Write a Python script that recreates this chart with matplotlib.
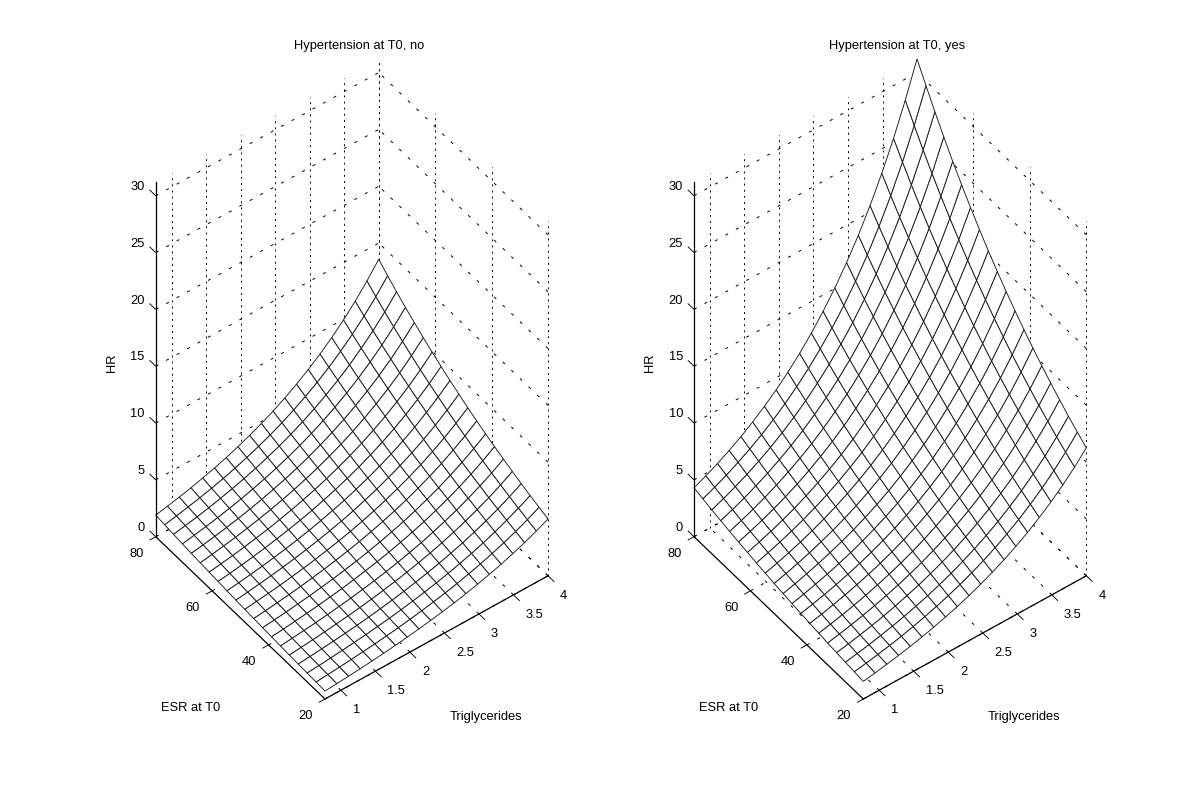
"""
HR surfaces over triglycerides and ESR, by hypertension at T0
"""

import numpy as np
import matplotlib

matplotlib.use("Agg")
import matplotlib.pyplot as plt
from mpl_toolkits.mplot3d import proj3d

plt.rcParams["font.family"] = ["Liberation Sans", "DejaVu Sans"]
plt.rcParams["lines.scale_dashes"] = False

# Mesh nodes
TRIG = [0.77, 0.94, 1.11, 1.28, 1.45, 1.62, 1.79, 1.96, 2.13, 2.30,
        2.47, 2.64, 2.81, 2.98, 3.15, 3.32, 3.49, 3.66, 3.83, 4.00]
ESR = [20.0, 23.16, 26.32, 29.47, 32.63, 35.79, 38.95, 42.11, 45.26, 48.42,
       51.58, 54.74, 57.89, 61.05, 64.21, 67.37, 70.53, 73.68, 76.84, 80.0]

# HR, one row per ESR node, one column per TRIG node
HR_NO = [
    [0.70, 0.78, 0.86, 0.95, 1.06, 1.17, 1.30, 1.44, 1.60, 1.78, 1.97, 2.18, 2.42, 2.69, 2.98, 3.30, 3.66, 4.06, 4.51, 5.00],
    [0.74, 0.82, 0.91, 1.01, 1.12, 1.24, 1.37, 1.52, 1.69, 1.87, 2.08, 2.30, 2.55, 2.83, 3.14, 3.48, 3.86, 4.28, 4.75, 5.27],
    [0.78, 0.86, 0.96, 1.06, 1.18, 1.30, 1.45, 1.60, 1.78, 1.97, 2.19, 2.43, 2.69, 2.99, 3.31, 3.67, 4.07, 4.52, 5.01, 5.55],
    [0.82, 0.91, 1.01, 1.12, 1.24, 1.37, 1.52, 1.69, 1.88, 2.08, 2.31, 2.56, 2.84, 3.15, 3.49, 3.87, 4.29, 4.76, 5.28, 5.85],
    [0.86, 0.96, 1.06, 1.18, 1.31, 1.45, 1.61, 1.78, 1.98, 2.19, 2.43, 2.70, 2.99, 3.32, 3.68, 4.08, 4.52, 5.01, 5.56, 6.17],
    [0.91, 1.01, 1.12, 1.24, 1.38, 1.53, 1.69, 1.88, 2.08, 2.31, 2.56, 2.84, 3.15, 3.50, 3.88, 4.30, 4.77, 5.29, 5.86, 6.50],
    [0.96, 1.06, 1.18, 1.31, 1.45, 1.61, 1.78, 1.98, 2.20, 2.43, 2.70, 3.00, 3.32, 3.68, 4.09, 4.53, 5.02, 5.57, 6.18, 6.85],
    [1.01, 1.12, 1.24, 1.38, 1.53, 1.70, 1.88, 2.09, 2.31, 2.57, 2.85, 3.16, 3.50, 3.88, 4.31, 4.77, 5.30, 5.87, 6.51, 7.22],
    [1.07, 1.18, 1.31, 1.45, 1.61, 1.79, 1.98, 2.20, 2.44, 2.70, 3.00, 3.33, 3.69, 4.09, 4.54, 5.03, 5.58, 6.19, 6.86, 7.61],
    [1.12, 1.25, 1.38, 1.53, 1.70, 1.88, 2.09, 2.32, 2.57, 2.85, 3.16, 3.51, 3.89, 4.31, 4.78, 5.30, 5.88, 6.52, 7.23, 8.02],
    [1.18, 1.31, 1.46, 1.62, 1.79, 1.99, 2.20, 2.44, 2.71, 3.00, 3.33, 3.70, 4.10, 4.55, 5.04, 5.59, 6.20, 6.88, 7.63, 8.46],
    [1.25, 1.38, 1.54, 1.70, 1.89, 2.09, 2.32, 2.57, 2.86, 3.17, 3.51, 3.90, 4.32, 4.79, 5.31, 5.89, 6.53, 7.25, 8.04, 8.91],
    [1.32, 1.46, 1.62, 1.79, 1.99, 2.21, 2.45, 2.71, 3.01, 3.34, 3.70, 4.11, 4.55, 5.05, 5.60, 6.21, 6.89, 7.64, 8.47, 9.39],
    [1.39, 1.54, 1.70, 1.89, 2.10, 2.32, 2.58, 2.86, 3.17, 3.52, 3.90, 4.33, 4.80, 5.32, 5.90, 6.54, 7.26, 8.05, 8.92, 9.90],
    [1.46, 1.62, 1.80, 1.99, 2.21, 2.45, 2.72, 3.01, 3.34, 3.71, 4.11, 4.56, 5.06, 5.61, 6.22, 6.90, 7.65, 8.48, 9.41, 10.43],
    [1.54, 1.71, 1.89, 2.10, 2.33, 2.58, 2.86, 3.18, 3.52, 3.91, 4.33, 4.81, 5.33, 5.91, 6.56, 7.27, 8.06, 8.94, 9.92, 11.00],
    [1.62, 1.80, 2.00, 2.21, 2.46, 2.72, 3.02, 3.35, 3.72, 4.12, 4.57, 5.07, 5.62, 6.23, 6.91, 7.66, 8.50, 9.42, 10.45, 11.59],
    [1.71, 1.90, 2.10, 2.33, 2.59, 2.87, 3.18, 3.53, 3.92, 4.34, 4.81, 5.34, 5.92, 6.57, 7.28, 8.07, 8.96, 9.93, 11.01, 12.21],
    [1.80, 2.00, 2.22, 2.46, 2.73, 3.02, 3.35, 3.72, 4.13, 4.57, 5.07, 5.63, 6.24, 6.92, 7.68, 8.51, 9.44, 10.47, 11.61, 12.87],
    [1.90, 2.11, 2.34, 2.59, 2.88, 3.19, 3.53, 3.92, 4.35, 4.82, 5.35, 5.93, 6.58, 7.30, 8.09, 8.97, 9.95, 11.03, 12.24, 13.57],
]
HR_YES = [
    [1.55, 1.72, 1.91, 2.12, 2.35, 2.61, 2.90, 3.22, 3.57, 3.96, 4.40, 4.89, 5.42, 6.02, 6.68, 7.42, 8.23, 9.14, 10.14, 11.26],
    [1.64, 1.82, 2.02, 2.24, 2.48, 2.76, 3.06, 3.40, 3.77, 4.18, 4.64, 5.15, 5.72, 6.35, 7.05, 7.83, 8.69, 9.64, 10.70, 11.88],
    [1.73, 1.92, 2.13, 2.36, 2.62, 2.91, 3.23, 3.58, 3.98, 4.41, 4.90, 5.44, 6.04, 6.70, 7.44, 8.26, 9.17, 10.17, 11.29, 12.53],
    [1.82, 2.02, 2.24, 2.49, 2.76, 3.07, 3.41, 3.78, 4.20, 4.66, 5.17, 5.74, 6.37, 7.07, 7.85, 8.71, 9.67, 10.74, 11.92, 13.23],
    [1.92, 2.13, 2.37, 2.63, 2.92, 3.24, 3.59, 3.99, 4.43, 4.92, 5.46, 6.06, 6.72, 7.46, 8.28, 9.19, 10.20, 11.33, 12.57, 13.96],
    [2.03, 2.25, 2.50, 2.77, 3.08, 3.42, 3.79, 4.21, 4.67, 5.19, 5.76, 6.39, 7.09, 7.87, 8.74, 9.70, 10.77, 11.95, 13.27, 14.73],
    [2.14, 2.37, 2.64, 2.93, 3.25, 3.61, 4.00, 4.44, 4.93, 5.47, 6.07, 6.74, 7.48, 8.31, 9.22, 10.24, 11.36, 12.61, 14.00, 15.54],
    [2.26, 2.51, 2.78, 3.09, 3.43, 3.80, 4.22, 4.69, 5.20, 5.77, 6.41, 7.12, 7.90, 8.77, 9.73, 10.80, 11.99, 13.31, 14.77, 16.40],
    [2.38, 2.64, 2.94, 3.26, 3.62, 4.01, 4.46, 4.95, 5.49, 6.09, 6.76, 7.51, 8.33, 9.25, 10.27, 11.40, 12.65, 14.04, 15.59, 17.30],
    [2.51, 2.79, 3.10, 3.44, 3.82, 4.24, 4.70, 5.22, 5.79, 6.43, 7.14, 7.92, 8.79, 9.76, 10.84, 12.03, 13.35, 14.82, 16.45, 18.26],
    [2.65, 2.94, 3.27, 3.63, 4.03, 4.47, 4.96, 5.51, 6.11, 6.79, 7.53, 8.36, 9.28, 10.30, 11.43, 12.69, 14.09, 15.64, 17.36, 19.27],
    [2.80, 3.11, 3.45, 3.83, 4.25, 4.72, 5.24, 5.81, 6.45, 7.16, 7.95, 8.82, 9.79, 10.87, 12.06, 13.39, 14.87, 16.50, 18.32, 20.33],
    [2.95, 3.28, 3.64, 4.04, 4.48, 4.98, 5.52, 6.13, 6.81, 7.55, 8.39, 9.31, 10.33, 11.47, 12.73, 14.13, 15.68, 17.41, 19.33, 21.45],
    [3.12, 3.46, 3.84, 4.26, 4.73, 5.25, 5.83, 6.47, 7.18, 7.97, 8.85, 9.82, 10.90, 12.10, 13.43, 14.91, 16.55, 18.37, 20.39, 22.64],
    [3.29, 3.65, 4.05, 4.50, 4.99, 5.54, 6.15, 6.83, 7.58, 8.41, 9.34, 10.36, 11.50, 12.77, 14.17, 15.73, 17.46, 19.39, 21.52, 23.89],
    [3.47, 3.85, 4.28, 4.75, 5.27, 5.85, 6.49, 7.20, 8.00, 8.88, 9.85, 10.94, 12.14, 13.47, 14.96, 16.60, 18.43, 20.46, 22.71, 25.20],
    [3.66, 4.06, 4.51, 5.01, 5.56, 6.17, 6.85, 7.60, 8.44, 9.37, 10.40, 11.54, 12.81, 14.22, 15.78, 17.52, 19.45, 21.59, 23.96, 26.60],
    [3.86, 4.29, 4.76, 5.28, 5.87, 6.51, 7.23, 8.02, 8.90, 9.88, 10.97, 12.18, 13.52, 15.00, 16.65, 18.49, 20.52, 22.78, 25.28, 28.06],
    [4.08, 4.53, 5.02, 5.58, 6.19, 6.87, 7.63, 8.46, 9.40, 10.43, 11.58, 12.85, 14.26, 15.83, 17.57, 19.51, 21.65, 24.03, 26.68, 29.61],
    [4.30, 4.78, 5.30, 5.88, 6.53, 7.25, 8.05, 8.93, 9.91, 11.00, 12.22, 13.56, 15.05, 16.71, 18.54, 20.58, 22.85, 25.36, 28.15, 31.20],
]

TRIG_TICKS = [1, 1.5, 2, 2.5, 3, 3.5, 4]
TRIG_LABELS = ["1", "1.5", "2", "2.5", "3", "3.5", "4"]
ESR_TICKS = [20, 40, 60, 80]
HR_TICKS = [0, 5, 10, 15, 20, 25, 30]

X0, X1 = 0.77, 4.0
Y0, Y1 = 20, 80
Z0, Z1 = 0, 31.2

W, H = 1200, 786
FONT = 9.3
DOTTED = (0, (1.4, 3.0))
DASHED = (0, (2.2, 6.4))


def fit_axes(ax, front_px, span_px):
    """Scale and move the square 3D axes so the floor lands on given pixels"""
    proj = ax.get_proj()

    def to_px(x, y, z):
        xv, yv, _ = proj3d.proj_transform(x, y, z, proj)
        return ax.transData.transform((xv, yv))

    side = 600
    ax.set_position([0, 0, side / W, side / H])
    ax.apply_aspect()
    span = to_px(X1, Y0, Z0)[0] - to_px(X0, Y1, Z0)[0]
    side *= span_px / span
    ax.set_position([0, 0, side / W, side / H])
    ax.apply_aspect()
    front = to_px(X0, Y0, Z0)
    ax.set_position(
        [
            (front_px[0] - front[0]) / W,
            (H - front_px[1] - front[1]) / H,
            side / W,
            side / H,
        ]
    )


def draw_grid(ax):
    """Dotted verticals and dashed lines on the two back walls and the floor"""
    style = dict(color="black", lw=0.7, zorder=1, clip_on=False)
    for t in TRIG_TICKS:
        ax.plot([t, t], [Y1, Y1], [Z0, Z1], ls=DOTTED, **style)
        ax.plot([t, t], [Y0, Y1], [Z0, Z0], ls=DASHED, **style)
    for e in ESR_TICKS:
        ax.plot([X1, X1], [e, e], [Z0, Z1], ls=DOTTED, **style)
        ax.plot([X0, X1], [e, e], [Z0, Z0], ls=DASHED, **style)
    for z in HR_TICKS:
        ax.plot([X0, X1], [Y1, Y1], [z, z], ls=DASHED, **style)
        ax.plot([X1, X1], [Y0, Y1], [z, z], ls=DASHED, **style)


def draw_axes(ax):
    """Solid axis lines with outward ticks and their labels"""
    style = dict(color="black", lw=0.9, zorder=5, clip_on=False)
    tick = dict(color="black", lw=0.65, zorder=5, clip_on=False, solid_capstyle="butt")
    text = dict(fontsize=FONT, color="black", zorder=6)
    ax.plot([X0, X1], [Y0, Y0], [Z0, Z0], **style)
    ax.plot([X0, X0], [Y0, Y1], [Z0, Z0], **style)
    ax.plot([X0, X0], [Y1, Y1], [Z0, Z1], **style)
    for t, label in zip(TRIG_TICKS, TRIG_LABELS):
        ax.plot([t, t], [Y0, Y0 - 2.2], [Z0, Z0], **tick)
        ax.text(t, Y0 - 4.25, Z0 - 0.75, label, ha="left", va="center", **text)
    for e in ESR_TICKS:
        ax.plot([X0, X0 - 0.09], [e, e], [Z0, Z0], **tick)
        ax.text(X0 - 0.28, e, Z0 - 0.6, str(e), ha="center", va="center", **text)
    for z in HR_TICKS:
        ax.plot([X0, X0], [Y1, Y1 + 2.2], [z, z], **tick)
        ax.text(X0, Y1 + 3.9, z - 0.15, str(z), ha="right", va="center", **text)


def draw_panel(fig, hr, title, front_px, dx):
    """One surface panel; dx is the pixel shift of its outside labels"""
    ax = fig.add_subplot(projection="3d", proj_type="ortho", computed_zorder=False)
    ax.set_xlim(X0, X1)
    ax.set_ylim(Y0, Y1)
    ax.set_zlim(Z0, Z1)
    ax.set_box_aspect((280, 280, 517))
    ax.view_init(elev=46.7, azim=-127.2)
    ax.set_axis_off()
    ax.patch.set_visible(False)
    draw_grid(ax)
    x, y = np.meshgrid(TRIG, ESR)
    ax.plot_surface(
        x,
        y,
        np.array(hr),
        rstride=1,
        cstride=1,
        color="white",
        edgecolor="#1a1a1a",
        linewidth=0.65,
        shade=False,
        zorder=3,
        clip_on=False,
    )
    draw_axes(ax)
    fit_axes(ax, front_px, 392.3)

    def label(px, py, s, **kw):
        fig.text((px + dx) / W, 1 - py / H, s, fontsize=FONT, ha="center", va="center", **kw)

    label(359, 45.5, title)
    label(112, 363, "HR", rotation=90)
    label(191, 707.7, "ESR at T0")
    label(486, 716.7, "Triglycerides")


fig = plt.figure(figsize=(W / 100, H / 100), dpi=100, facecolor="white")
draw_panel(fig, HR_NO, "Hypertension at T0, no", (325, 699), 0)
draw_panel(fig, HR_YES, "Hypertension at T0, yes", (863.3, 699), 538)
fig.savefig("out.png", dpi=100)
